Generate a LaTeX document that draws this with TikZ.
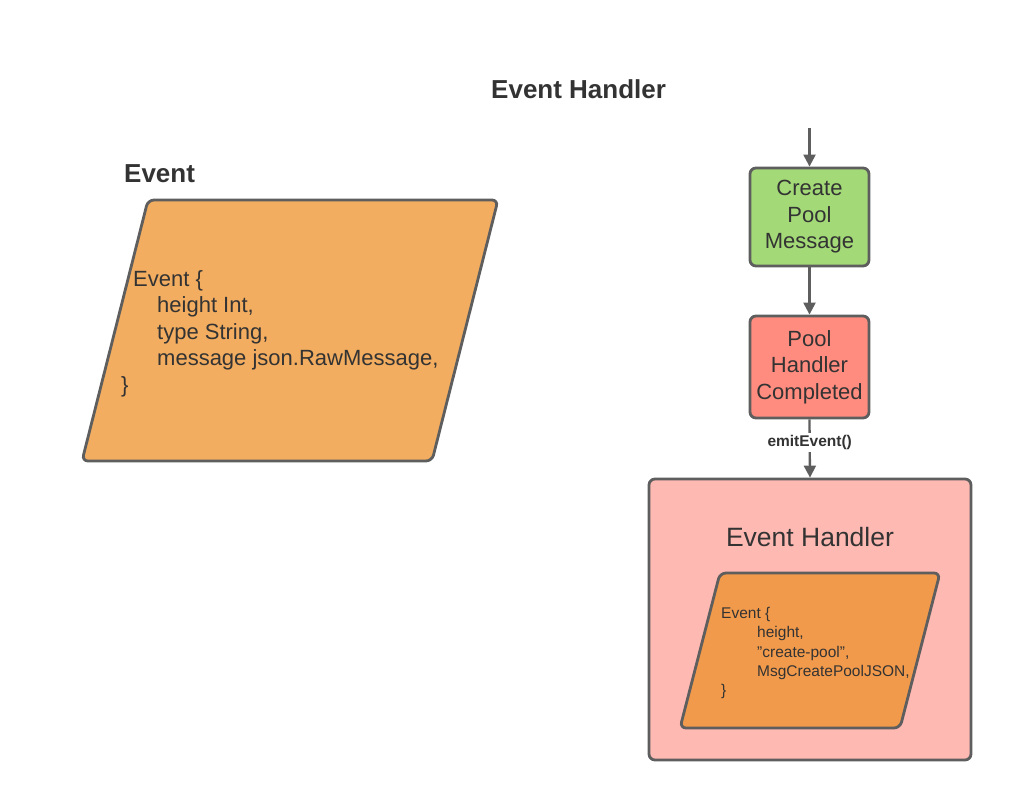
\documentclass[tikz,border=0pt]{standalone}
\usepackage{fontspec}
\setmainfont{Liberation Sans}
\usetikzlibrary{arrows.meta}
\definecolor{strokec}{HTML}{5E5E5E}
\definecolor{textc}{HTML}{333333}
\definecolor{greenc}{HTML}{A3D977}
\definecolor{redc}{HTML}{FF8C7F}
\definecolor{pinkc}{HTML}{FFB9B3}
\definecolor{orangel}{HTML}{F2AD60}
\definecolor{oranged}{HTML}{F29A4B}
\tikzset{
  stepbox/.style={draw=strokec, line width=2.8pt, rounded corners=6pt, align=center,
    text=textc, inner sep=0pt, font=\fontsize{22}{26.5}\selectfont},
  para/.style={draw=strokec, line width=2.8pt, rounded corners=6pt},
  conn/.style={draw=strokec, line width=2.3pt, -{Triangle[length=12pt,width=12pt]}},
  title/.style={text=textc, inner sep=0pt, anchor=base west, font=\fontsize{26}{30}\selectfont\bfseries},
  bigline/.style={text=textc, inner sep=0pt, anchor=base west, font=\fontsize{22}{26.5}\selectfont},
  smallline/.style={text=textc, inner sep=0pt, anchor=base west, font=\fontsize{15.5}{19}\selectfont},
}
\begin{document}
\begin{tikzpicture}[x=1pt,y=-1pt]
\useasboundingbox (0,0) rectangle (1010,800);

% titles
\node[title] (t1) at (491,99) {Event Handler};
\node[title] (t2) at (124,182) {Event};

% left parallelogram
\draw[para, fill=orangel] (323,200) -- (498,200) -- (432,461) -- (82,461) -- (148,200) -- cycle;
\node[bigline] (ev1) at (133,286) {Event \{};
\node[bigline] (ev2) at (157,312.5) {height Int,};
\node[bigline] (ev3) at (157,339) {type String,};
\node[bigline] (ev4) at (157,365.5) {message json.RawMessage,};
\node[bigline] (ev5) at (121,392) {\}};

% right flow
\coordinate (start) at (809.5,128);
\node[stepbox, fill=greenc, minimum width=119pt, minimum height=98pt] (create) at (809.5,217) {Create\\Pool\\Message};
\node[stepbox, fill=redc, minimum width=119pt, minimum height=102pt] (pool) at (809.5,367) {Pool\\Handler\\Completed};
\node[stepbox, fill=pinkc, minimum width=322pt, minimum height=281pt] (handler) at (810,619.5) {};
\node[text=textc, inner sep=0pt, font=\fontsize{26.5}{30}\selectfont] (hlabel) at (810,537) {Event Handler};

\draw[conn] (start) -- (create.north);
\draw[conn] (create.south) -- (pool.north);
\draw[conn] (pool.south) -- node[pos=0.4, fill=white, inner sep=2pt, text=textc, font=\fontsize{15.5}{18}\selectfont\bfseries] (emit) {emitEvent()} (handler.north);

% inner parallelogram
\draw[para, fill=oranged] (830,573) -- (940,573) -- (900,728) -- (680,728) -- (720,573) -- cycle;
\node[smallline] (hl1) at (721,618.5) {Event \{};
\node[smallline] (hl2) at (757,637.8) {height,};
\node[smallline] (hl3) at (757,657.1) {"create-pool",};
\node[smallline] (hl4) at (757,676.4) {MsgCreatePoolJSON,};
\node[smallline] (hl5) at (721,695.7) {\}};
\end{tikzpicture}
\end{document}
